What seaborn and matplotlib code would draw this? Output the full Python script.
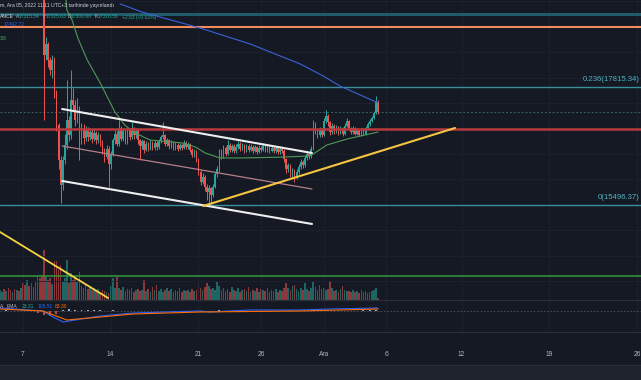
"""Candlestick chart with channel, fib levels, volume and MACD (4h bars)"""
import pandas as pd
import matplotlib
matplotlib.use("Agg")
import matplotlib.pyplot as plt
import matplotlib.dates as mdates
from matplotlib.patches import Rectangle
import seaborn as sns

# ---- data (4h bars, first bar 2022-11-05 04:00; early bars sit above the visible range)
bar_start = "2022-11-05 04:00"
first_open = 20500
closes = [
    20600, 20700, 20550, 20650, 20500, 20450, 20600, 20400, 20500, 20350,
    20450, 20300, 20200, 20350, 20150, 20250, 20050, 19950, 20100, 19850, 19700,
    18440, 18660, 18350, 18150, 18350, 17700, 17070, 16380, 15890, 16380,
    16680, 17170, 16870, 17560, 17460, 17170, 17400, 16770, 17010, 16810,
    16970, 16830, 16930, 16800, 16910, 16770, 16870, 16730, 16580, 16440,
    16600, 16300, 16500, 16770, 16900, 16700, 17000, 16800, 16950, 16750,
    16970, 16830, 17000, 16870, 16950, 16770, 16650, 16750, 16580, 16700,
    16600, 16720, 16620, 16720, 16630, 16750, 16830, 16870, 16700, 16770,
    16650, 16720, 16620, 16680, 16600, 16680, 16620, 16720, 16640, 16690,
    16580, 16480, 16550, 16400, 16150, 15950, 16050, 15850, 15750, 15820,
    15700, 15850, 16100, 16200, 16550, 16450, 16620, 16500, 16680, 16580,
    16650, 16560, 16640, 16700, 16600, 16670, 16560, 16650, 16580, 16640,
    16560, 16630, 16540, 16620, 16580, 16660, 16570, 16640, 16560, 16620,
    16550, 16610, 16530, 16600, 16560, 16400, 16200, 16280, 16100, 16180,
    16050, 16150, 16250, 16350, 16280, 16420, 16500, 16450, 16600, 17100,
    16950, 16870, 16970, 16880, 17150, 17250, 17120, 16930, 17050, 16950,
    17020, 16920, 17000, 16900, 17050, 17150, 17000, 16930, 17000, 16900,
    16960, 16880, 16970, 16900, 17000, 17080, 17150, 17200, 17300, 17520,
    17316,
]
highs = [
    20750, 20800, 20700, 20750, 20650, 20650, 20700, 20650, 20600, 20550,
    20550, 20500, 20400, 20450, 20400, 20350, 20300, 20100, 20200, 20150, 19900,
    19800, 18800, 18700, 18400, 18450, 18400, 17750, 17100, 16450, 16450,
    16900, 17950, 17250, 18150, 17800, 17550, 17600, 17450, 17100, 17080,
    17050, 17020, 17000, 16980, 16980, 16950, 16930, 16900, 16780, 16620,
    16680, 16650, 16560, 16820, 16980, 16950, 17170, 17050, 17000, 16980,
    17020, 17000, 17130, 17030, 17000, 16980, 16800, 16800, 16780, 16750,
    16740, 16770, 16750, 16770, 16760, 16800, 16880, 17130, 16900, 16820,
    16800, 16770, 16750, 16730, 16710, 16720, 16700, 16780, 16750, 16740,
    16720, 16620, 16600, 16580, 16420, 16180, 16120, 16080, 15900, 15880,
    15850, 15900, 16150, 16260, 16600, 16600, 16680, 16650, 16770, 16720,
    16700, 16690, 16690, 16760, 16730, 16720, 16700, 16700, 16690, 16690,
    16670, 16680, 16660, 16670, 16660, 16710, 16690, 16690, 16670, 16670,
    16650, 16660, 16640, 16650, 16640, 16590, 16420, 16330, 16300, 16230,
    16200, 16200, 16300, 16400, 16380, 16470, 16550, 16540, 16650, 17170,
    17130, 16980, 17020, 17000, 17200, 17360, 17280, 17150, 17100, 17080,
    17070, 17050, 17050, 17030, 17100, 17200, 17170, 17030, 17040, 17020,
    17000, 16990, 17010, 17000, 17040, 17120, 17190, 17240, 17340, 17640,
    17560,
]
lows = [
    20450, 20500, 20450, 20500, 20400, 20350, 20400, 20350, 20350, 20300,
    20300, 20250, 20100, 20150, 20100, 20100, 19950, 19850, 19900, 19800, 19600,
    17170, 18350, 18200, 18050, 18000, 17600, 16950, 16200, 15530, 15800,
    16300, 16600, 16750, 16800, 17350, 17050, 17100, 16380, 16700, 16700,
    16750, 16750, 16780, 16720, 16750, 16700, 16720, 16650, 16500, 16350,
    16400, 15850, 16200, 16450, 16700, 16650, 16650, 16750, 16750, 16700,
    16700, 16780, 16800, 16800, 16820, 16700, 16380, 16600, 16520, 16550,
    16550, 16570, 16570, 16580, 16580, 16600, 16720, 16800, 16650, 16660,
    16600, 16620, 16580, 16580, 16560, 16570, 16580, 16600, 16600, 16600,
    16540, 16430, 16440, 16350, 16080, 15880, 15900, 15780, 15600, 15500,
    15520, 15650, 15820, 16050, 16150, 16400, 16420, 16450, 16470, 16530,
    16540, 16520, 16520, 16600, 16560, 16570, 16520, 16530, 16540, 16550,
    16520, 16530, 16500, 16510, 16540, 16550, 16530, 16540, 16520, 16530,
    16510, 16520, 16490, 16500, 16520, 16350, 16130, 16150, 16050, 16050,
    15950, 16000, 16100, 16200, 16230, 16250, 16380, 16400, 16420, 16580,
    16900, 16820, 16840, 16830, 16860, 17100, 17050, 16880, 16900, 16900,
    16920, 16880, 16890, 16860, 16880, 17020, 16960, 16890, 16900, 16870,
    16870, 16850, 16860, 16870, 16880, 16970, 17050, 17120, 17180, 17280,
    17290,
]
volumes = [
    100, 80, 110, 90, 120, 100, 80, 110, 100, 90,
    120, 170, 150, 200, 140, 170, 130, 180, 250, 220, 250,
    500, 230, 200, 220, 160, 390, 390, 300, 350, 180,
    220, 400, 170, 270, 200, 240, 180, 280, 140, 120,
    150, 110, 130, 100, 120, 90, 110, 80, 100, 90,
    80, 70, 140, 220, 120, 230, 120, 100, 130, 90,
    110, 100, 120, 80, 100, 110, 90, 100, 200, 90,
    110, 80, 130, 100, 150, 90, 110, 80, 100, 120,
    90, 110, 80, 100, 90, 120, 80, 100, 90, 100,
    80, 110, 90, 100, 170, 120, 100, 130, 170, 140,
    110, 120, 100, 180, 140, 100, 120, 90, 110, 80,
    130, 100, 90, 120, 80, 100, 110, 90, 130, 80,
    100, 90, 120, 80, 110, 100, 90, 120, 80, 100,
    90, 110, 80, 100, 90, 120, 170, 120, 100, 140,
    150, 110, 90, 120, 100, 170, 110, 90, 120, 180,
    130, 100, 150, 110, 120, 100, 110, 190, 120, 90,
    100, 80, 110, 140, 100, 90, 90, 80, 100, 80,
    90, 70, 100, 80, 90, 70, 80, 90, 100, 120,
    20,
]

# moving averages
ma_green_dates = ["2022-11-10 10:00", "2022-11-10 12:00", "2022-11-10 22:00", "2022-11-11 09:00",
                  "2022-11-12 03:00", "2022-11-13 04:00", "2022-11-14 08:00", "2022-11-15 03:00",
                  "2022-11-15 19:00", "2022-11-17 03:00", "2022-11-19 18:00", "2022-11-20 18:00",
                  "2022-11-21 13:00", "2022-11-22 17:00", "2022-11-24 08:00", "2022-11-26 11:00",
                  "2022-11-27 22:00", "2022-11-29 22:00", "2022-12-01 06:00", "2022-12-02 21:00",
                  "2022-12-05 08:00"]
ma_green = [19560, 19328, 19131, 18778, 18345, 17893, 17323, 17068, 16930, 16773, 16714,
            16636, 16518, 16420, 16420, 16430, 16439, 16459, 16675, 16793, 16930]
ma_blue_dates = ["2022-11-14 18:00", "2022-11-16 12:00", "2022-11-21 03:00", "2022-11-25 03:00",
                 "2022-11-29 03:00", "2022-11-30 23:00", "2022-12-02 07:00", "2022-12-03 22:00",
                 "2022-12-05 08:00"]
ma_blue = [19446, 19288, 18974, 18660, 18267, 18031, 17834, 17657, 17503]

# horizontal levels
lvl_fib382 = 19249
lvl_orange = 18994
lvl_fib236 = 17815
lvl_last = 17316
lvl_red = 16990
lvl_fib0 = 15496
lvl_green = 14101

# drawn trend lines
chan_dates = ["2022-11-10 03:00", "2022-11-30 01:30"]
chan_upper = [17382, 16518]
chan_mid = [16655, 15810]
chan_lower = [15968, 15123]
trend_up_dates = ["2022-11-21 09:00", "2022-12-11 11:30"]
trend_up = [15476, 17009]
trend_dn_dates = ["2022-11-05 04:00", "2022-11-13 19:00"]
trend_dn = [14965, 13668]

# MACD pane
macd_dates = ["2022-11-05 04:00", "2022-11-08 14:00", "2022-11-09 13:00", "2022-11-10 05:00",
              "2022-11-11 04:00", "2022-11-13 04:00", "2022-11-15 19:00", "2022-11-21 03:00",
              "2022-11-21 22:00", "2022-11-25 03:00", "2022-11-29 03:00", "2022-12-01 12:00",
              "2022-12-05 08:00"]
macd_line = [75, 0, -175, -275, -225, -125, -50, 0, -25, 25, 25, 50, 75]
signal_dates = ["2022-11-05 04:00", "2022-11-08 14:00", "2022-11-10 12:00", "2022-11-13 04:00",
                "2022-11-15 19:00", "2022-11-21 03:00", "2022-11-29 03:00", "2022-12-05 08:00"]
signal_line = [50, 0, -225, -150, -75, -25, 0, 50]
hist_start = "2022-11-05 04:00"
macd_hist = [10, 15, 10, 5, 10, -5, -60, -110, -120, -80,
             30, 40, 35, 30, 25, 20, 15, 12, 15, 12,
             10, 10, 5, 10, 5, 0, -5, -10, -15, -10,
             -5, -10, -15, -5, 10, 15, 12, 10, 5, 10,
             5, 0, 5, -5, 0, -10, -15, -10, 0, 10,
             15, 20, 15, 12, 10, 5, 10, 12, 15, 20, 25]

tick_dates = ["2022-11-07", "2022-11-14", "2022-11-21", "2022-11-26", "2022-12-01",
              "2022-12-06", "2022-12-12", "2022-12-19", "2022-12-26"]
tick_labels = ["7", "14", "21", "26", "Ara", "6", "12", "19", "26"]

assert len(closes) == len(highs) == len(lows) == len(volumes)

# ---- style
BG = "#151924"
GRID = "#1e2230"
UP, DN = "#26a69a", "#ef5350"
sns.set_theme(style="dark", rc={"axes.facecolor": BG, "figure.facecolor": BG,
                                "axes.edgecolor": BG, "grid.color": GRID})
plt.rcParams["font.family"] = ["Liberation Sans", "DejaVu Sans"]

W, H = 641, 380
fig = plt.figure(figsize=(W / 100, H / 100), dpi=100)
ax_vol = fig.add_axes([0, 80 / H, 1, 300 / H])
ax = fig.add_axes([0, 80 / H, 1, 300 / H], sharex=ax_vol)
ax.set_facecolor("none")
ax_macd = fig.add_axes([0, 48 / H, 1, 32 / H], sharex=ax_vol)

def dnum(d):
    return mdates.date2num(pd.to_datetime(d))

t = dnum(pd.date_range(bar_start, periods=len(closes), freq="4h"))
opens = [first_open] + closes[:-1]
is_up = [c >= o for o, c in zip(opens, closes)]
cols = [UP if u else DN for u in is_up]

# volume (bottom layer)
ax_vol.bar(t, volumes, width=0.13, color=cols, alpha=0.55, linewidth=0)
ax_vol.set_ylim(0, 3000)
ax_vol.set_yticks([])
ax_vol.tick_params(labelbottom=False, length=0)

# candles
ax.vlines(t, lows, highs, colors=cols, linewidth=0.7, zorder=2)
bodies = [max(abs(c - o), 12) for o, c in zip(opens, closes)]
ax.bar(t, bodies, bottom=[min(o, c) for o, c in zip(opens, closes)], width=0.12,
       color=cols, linewidth=0, zorder=2)

# moving averages
sns.lineplot(x=dnum(ma_green_dates), y=ma_green, ax=ax, color="#4f9a55", linewidth=0.8, zorder=2.5)
sns.lineplot(x=dnum(ma_blue_dates), y=ma_blue, ax=ax, color="#3a62d8", linewidth=0.8, zorder=2.5)

# horizontal levels
ax.axhline(lvl_fib382, color="#235f6f", linewidth=2.0, zorder=1.5)
ax.axhline(lvl_orange, color="#f28b5b", linewidth=1.5, zorder=1.5)
ax.axhline(lvl_fib236, color="#3a8f9a", linewidth=1.0, zorder=1.5)
ax.axhline(lvl_last, color="#3f5f68", linewidth=0.7, linestyle=(0, (2, 2)), zorder=1.5)
ax.axhline(lvl_red, color="#b8383c", linewidth=1.8, zorder=3)
ax.axhline(lvl_fib0, color="#3a8f9a", linewidth=1.0, zorder=1.5)
ax.axhline(lvl_green, color="#2f8f3a", linewidth=1.2, zorder=1.5)

# channel and trend lines
ax.plot(dnum(chan_dates), chan_upper, color="#eeeeee", linewidth=1.5, zorder=3)
ax.plot(dnum(chan_dates), chan_lower, color="#eeeeee", linewidth=1.5, zorder=3)
ax.plot(dnum(chan_dates), chan_mid, color="#b47f86", linewidth=0.9, zorder=3)
ax.plot(dnum(trend_up_dates), trend_up, color="#f5c542", linewidth=1.5, zorder=3)
ax.plot(dnum(trend_dn_dates), trend_dn, color="#f5d442", linewidth=1.3, zorder=3)

# fib labels (right aligned so they stay inside the frame)
ax.text(0.998, lvl_fib236 + 140, "0.236(17815.34)", color="#4fb3bf", fontsize=5.6,
        va="center", ha="right", transform=ax.get_yaxis_transform())
ax.text(0.998, lvl_fib0 + 140, "0(15496.37)", color="#4fb3bf", fontsize=5.6,
        va="center", ha="right", transform=ax.get_yaxis_transform())

ax.set_ylim(13629, 19524)
ax.set_yticks(list(range(14000, 19501, 500)))
ax.grid(True, color=GRID, linewidth=0.6)
ax.set_axisbelow(True)
ax.tick_params(labelbottom=False, labelleft=False, length=0)
for a in (ax, ax_vol):
    for s in a.spines.values():
        s.set_visible(False)

# MACD pane
ht = dnum(pd.date_range(hist_start, periods=len(macd_hist), freq="12h"))
hcols = ["#b2dfdb" if v >= 0 else ("#ff5252" if v < -50 else "#ffcdd2") for v in macd_hist]
ax_macd.bar(ht, macd_hist, width=0.15, color=hcols, linewidth=0, alpha=0.8)
ax_macd.axhline(0, color="#50535e", linewidth=0.6, linestyle=(0, (2, 2)))
sns.lineplot(x=dnum(macd_dates), y=macd_line, ax=ax_macd, color="#2962ff", linewidth=0.8)
sns.lineplot(x=dnum(signal_dates), y=signal_line, ax=ax_macd, color="#ff6d00", linewidth=0.8)
ax_macd.set_ylim(-525, 275)
ax_macd.set_yticks([])
ax_macd.grid(True, axis="x", color=GRID, linewidth=0.6)
for side in ("left", "right"):
    ax_macd.spines[side].set_visible(False)
for side in ("top", "bottom"):
    ax_macd.spines[side].set_color("#2a2e39")
    ax_macd.spines[side].set_linewidth(0.8)

ax_macd.set_xticks(dnum(tick_dates))
ax_macd.set_xticklabels(tick_labels)
ax_macd.set_xlim(dnum("2022-11-05 03:56"), dnum("2022-12-26 07:41"))
ax_macd.tick_params(axis="x", length=0, pad=13.5, labelsize=4.8, colors="#b2b5be")
ax_macd.set_xlabel("")
ax_macd.set_ylabel("")
ax.set_xlabel("")
ax.set_ylabel("")

# bottom strip
fig.add_artist(Rectangle((0, 0), 1, 15 / H, transform=fig.transFigure,
                         color="#1e222d", zorder=-1))
fig.add_artist(plt.Line2D([0, 1], [15 / H, 15 / H], transform=fig.transFigure,
                          color="#2a2e39", linewidth=0.8))

# header / legend texts
def ftext(x, y, s, color, size=3.6):
    fig.text(x / W, 1 - y / H, s, color=color, fontsize=size, va="center", ha="left")

ftext(0, 6, "m, Ara 05, 2022 11:11 UTC+3 tarihinde yayınlandı", "#d1d4dc", 3.7)
ftext(0, 17, "ANCE", "#d1d4dc")
for x0, letter, val in [(16, "A", "17315.34"), (43, "Y", "17325.63"),
                        (68, "D", "17300.00"), (95, "K", "17316.56")]:
    ftext(x0, 17, letter, "#b2b5be")
    ftext(x0 + 3, 17, val, "#22ab94")
ftext(122, 17, "+2.63 (+0.02%)", "#22ab94")
ftext(4, 24, "17492.72", "#2962ff")
ftext(0, 38, ".58", "#4caf50")
ftext(0, 307, "A", "#b2b5be")
ftext(7, 307, "EMA", "#b2b5be")
ftext(22, 307, "23.31", "#26a69a")
ftext(38, 307, "106.51", "#2962ff")
ftext(55, 307, "83.30", "#ff6d00")

fig.savefig("out.png", dpi=100, facecolor=BG)
